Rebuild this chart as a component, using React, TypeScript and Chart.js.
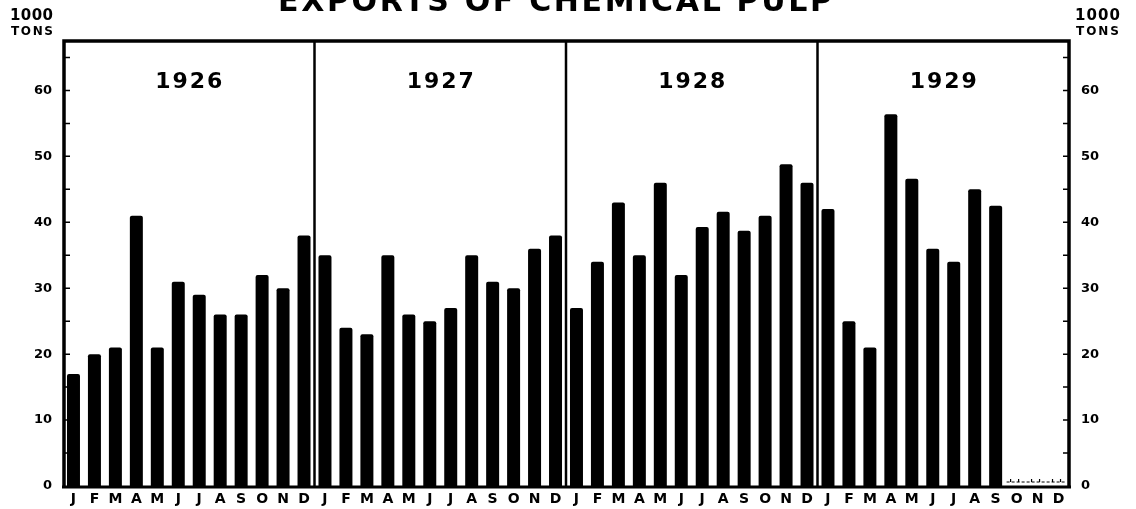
import { useEffect, useRef } from 'react';
import { Chart, registerables } from 'chart.js';

Chart.register(...registerables);

const monthLetters = ['J', 'F', 'M', 'A', 'M', 'J', 'J', 'A', 'S', 'O', 'N', 'D'];
const years = ['1926', '1927', '1928', '1929'];
const values1926 = [17, 20, 21, 41, 21, 31, 29, 26, 26, 32, 30, 38];
const values1927 = [35, 24, 23, 35, 26, 25, 27, 35, 31, 30, 36, 38];
const values1928 = [27, 34, 43, 35, 46, 32, 39.3, 41.6, 38.7, 41, 48.8, 46];
const values1929 = [42, 25, 21, 56.4, 46.6, 36, 34, 45, 42.5, null, null, null];
const yLabelTicks = [0, 10, 20, 30, 40, 50, 60];
const yMarkTicks = [5, 10, 15, 20, 25, 30, 35, 40, 45, 50, 55, 60, 65];
const titleText = 'EXPORTS OF CHEMICAL PULP';
const unitTop = '1000';
const unitBottom = 'TONS';

const FONT = "'DejaVu Sans', 'Liberation Sans', sans-serif";

function drawFitted(ctx: CanvasRenderingContext2D, text: string, xLeft: number, width: number, baseline: number, font: string) {
  ctx.font = font;
  (ctx as any).letterSpacing = '0px';
  const w = ctx.measureText(text).width;
  const sp = text.length > 1 ? (width - w) / (text.length - 1) : 0;
  (ctx as any).letterSpacing = sp + 'px';
  ctx.textAlign = 'left';
  ctx.textBaseline = 'alphabetic';
  ctx.fillText(text, xLeft, baseline);
  (ctx as any).letterSpacing = '0px';
}

const decorations = {
  id: 'decorations',
  afterDraw(chart: any) {
    const { ctx, chartArea } = chart;
    const { left, right, top, bottom } = chartArea;
    const x = chart.scales.x;
    const y = chart.scales.y;
    ctx.save();
    ctx.strokeStyle = '#000';
    ctx.fillStyle = '#000';

    // frame
    ctx.lineWidth = 3.5;
    ctx.beginPath();
    ctx.moveTo(left + 1, bottom + 2);
    ctx.lineTo(left + 1, top);
    ctx.lineTo(right, top);
    ctx.lineTo(right, bottom + 2);
    ctx.stroke();
    ctx.lineWidth = 3;
    ctx.beginPath();
    ctx.moveTo(left - 1, bottom + 1);
    ctx.lineTo(right + 2, bottom + 1);
    ctx.stroke();

    // year dividers
    ctx.lineWidth = 2.5;
    for (let k = 1; k < years.length; k++) {
      const xb = (x.getPixelForValue(12 * k - 1) + x.getPixelForValue(12 * k)) / 2;
      ctx.beginPath();
      ctx.moveTo(xb, top);
      ctx.lineTo(xb, bottom + 1);
      ctx.stroke();
    }

    // tick marks inside frame
    ctx.lineWidth = 1.5;
    for (const v of yMarkTicks) {
      const py = y.getPixelForValue(v);
      ctx.beginPath();
      ctx.moveTo(left + 2, py);
      ctx.lineTo(left + 7, py);
      ctx.moveTo(right - 6, py);
      ctx.lineTo(right - 1, py);
      ctx.stroke();
    }

    // dotted baseline for missing months
    const xs = x.getPixelForValue(45) - 10;
    const py0 = y.getPixelForValue(0) - 4;
    ctx.lineWidth = 1.2;
    ctx.setLineDash([3, 2]);
    ctx.beginPath();
    ctx.moveTo(xs, py0);
    ctx.lineTo(right - 3, py0);
    ctx.stroke();
    ctx.setLineDash([]);
    for (let i = 45; i < 48; i++) {
      for (const d of [-6, 2]) {
        const px = x.getPixelForValue(i) + d;
        ctx.beginPath();
        ctx.moveTo(px, py0);
        ctx.lineTo(px, py0 - 3);
        ctx.stroke();
      }
    }

    // year labels
    ctx.font = `bold 22px ${FONT}`;
    ctx.textAlign = 'center';
    ctx.textBaseline = 'middle';
    (ctx as any).letterSpacing = '2px';
    years.forEach((yr, i) => {
      const cx = (x.getPixelForValue(12 * i) + x.getPixelForValue(12 * i + 11)) / 2 + 1;
      ctx.fillText(yr, cx, 82);
    });
    (ctx as any).letterSpacing = '0px';

    // units labels
    drawFitted(ctx, unitTop, 10, 43, 20, `bold 15px ${FONT}`);
    drawFitted(ctx, unitBottom, 11, 42, 35, `bold 12px ${FONT}`);
    drawFitted(ctx, unitTop, 1075, 45, 20, `bold 15px ${FONT}`);
    drawFitted(ctx, unitBottom, 1076, 43, 35, `bold 12px ${FONT}`);

    // title (top cropped)
    drawFitted(ctx, titleText, 278, 554, 11, `bold 30px ${FONT}`);

    ctx.restore();
  },
};

export default function App() {
  const ref = useRef<HTMLCanvasElement | null>(null);

  useEffect(() => {
    document.body.style.margin = '0';
    const labels: string[] = [];
    years.forEach(() => monthLetters.forEach((m) => labels.push(m)));
    const data = [...values1926, ...values1927, ...values1928, ...values1929];
    const tickFont = { family: FONT, size: 13, weight: 'bold' as const };

    const chart = new Chart(ref.current as HTMLCanvasElement, {
      type: 'bar',
      data: {
        labels,
        datasets: [
          {
            data,
            backgroundColor: '#000',
            borderWidth: 0,
            borderRadius: 2,
            barPercentage: 0.62,
            categoryPercentage: 1,
            yAxisID: 'y',
          },
        ],
      },
      options: {
        responsive: false,
        animation: false,
        devicePixelRatio: 1,
        layout: { padding: { top: 41, left: 0, right: 0, bottom: 0 } },
        plugins: { legend: { display: false }, tooltip: { enabled: false }, title: { display: false } },
        scales: {
          x: {
            type: 'category',
            offset: true,
            grid: { display: false, drawTicks: false },
            border: { display: false },
            ticks: {
              color: '#000',
              font: { family: FONT, size: 14, weight: 'bold' },
              padding: 5,
              autoSkip: false,
              maxRotation: 0,
              minRotation: 0,
            },
            afterFit: (s: any) => { s.height = 23; },
          },
          y: {
            position: 'left',
            min: 0,
            max: 67.5,
            grid: { display: false, drawTicks: false },
            border: { display: false },
            ticks: { color: '#000', font: tickFont, padding: 11 },
            afterBuildTicks: (s: any) => { s.ticks = yLabelTicks.map((v) => ({ value: v })); },
            afterFit: (s: any) => { s.width = 63; },
          },
          y2: {
            position: 'right',
            min: 0,
            max: 67.5,
            grid: { display: false, drawTicks: false },
            border: { display: false },
            ticks: { color: '#000', font: tickFont, padding: 12 },
            afterBuildTicks: (s: any) => { s.ticks = yLabelTicks.map((v) => ({ value: v })); },
            afterFit: (s: any) => { s.width = 67; },
          },
        },
      },
      plugins: [decorations],
    });
    return () => chart.destroy();
  }, []);

  return (
    <div style={{ position: 'absolute', left: 0, top: 0, width: 1136, height: 509, background: '#fff' }}>
      <canvas ref={ref} width={1136} height={509} style={{ display: 'block' }} />
    </div>
  );
}
